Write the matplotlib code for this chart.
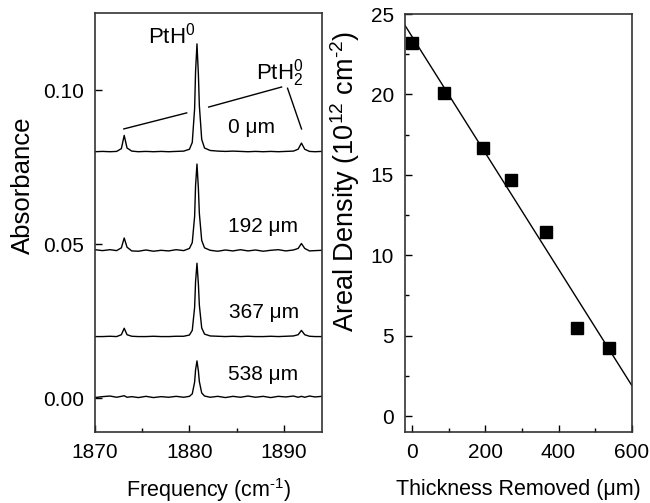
import matplotlib
matplotlib.use("Agg")
import matplotlib.pyplot as plt
from matplotlib.ticker import MultipleLocator

plt.rcParams['font.family'] = ['Liberation Sans', 'DejaVu Sans']
plt.rcParams['mathtext.fontset'] = 'custom'
plt.rcParams['mathtext.rm'] = 'Liberation Sans'
plt.rcParams['mathtext.it'] = 'Liberation Sans:italic'

# ---- left panel: IR spectra ----
freq = [1870.0, 1870.8, 1871.6, 1872.3, 1872.8, 1873.1, 1873.4, 1873.9, 1874.6, 1875.4,
        1876.2, 1877.0, 1877.8, 1878.6, 1879.4, 1880.0, 1880.3, 1880.55, 1880.65, 1880.8,
        1880.95, 1881.05, 1881.3, 1881.6, 1882.2, 1883.0, 1883.8, 1884.6, 1885.4, 1886.2,
        1887.0, 1887.8, 1888.6, 1889.4, 1890.2, 1891.0, 1891.5, 1891.85, 1892.2, 1892.7,
        1893.3, 1894.0]

abs_0um = [0.0000, 0.0001, 0.0000, 0.0001, 0.0010, 0.0053, 0.0012, 0.0002, 0.0000, 0.0001,
           0.0000, 0.0001, 0.0000, 0.0001, 0.0002, 0.0008, 0.0030, 0.0140, 0.0260, 0.0350,
           0.0250, 0.0150, 0.0040, 0.0012, 0.0004, 0.0002, 0.0001, 0.0002, 0.0001, 0.0000,
           0.0001, 0.0000, 0.0001, 0.0000, 0.0001, 0.0002, 0.0008, 0.0028, 0.0008, 0.0001,
           0.0000, 0.0001]
abs_192um = [0.0002, -0.0001, 0.0002, -0.0001, 0.0008, 0.0040, 0.0010, -0.0002, -0.0003, 0.0001,
             -0.0003, 0.0000, -0.0002, 0.0002, -0.0001, 0.0006, 0.0025, 0.0110, 0.0210, 0.0280,
             0.0200, 0.0120, 0.0032, 0.0008, 0.0000, -0.0003, 0.0001, -0.0002, 0.0002, -0.0002,
             0.0001, -0.0003, 0.0000, 0.0002, -0.0002, 0.0001, 0.0006, 0.0022, 0.0006, -0.0002,
             -0.0001, 0.0000]
abs_367um = [0.0000, 0.0000, 0.0001, 0.0000, 0.0006, 0.0027, 0.0006, 0.0001, 0.0000, 0.0000,
             0.0001, 0.0000, 0.0000, 0.0001, 0.0001, 0.0005, 0.0020, 0.0095, 0.0178, 0.0238,
             0.0170, 0.0102, 0.0028, 0.0008, 0.0002, 0.0001, 0.0000, 0.0001, 0.0000, 0.0001,
             0.0000, 0.0000, 0.0001, 0.0000, 0.0001, 0.0002, 0.0006, 0.0020, 0.0006, 0.0001,
             0.0000, 0.0000]
abs_538um = [-0.0002, 0.0001, 0.0003, -0.0001, 0.0002, 0.0004, -0.0001, 0.0001, -0.0002, 0.0002,
             -0.0002, 0.0001, -0.0001, 0.0002, -0.0001, 0.0002, 0.0010, 0.0048, 0.0088, 0.0117,
             0.0084, 0.0050, 0.0013, 0.0003, -0.0001, 0.0002, -0.0002, 0.0002, -0.0001, 0.0003,
             -0.0001, 0.0002, -0.0002, 0.0002, 0.0000, 0.0003, -0.0001, 0.0002, -0.0001, 0.0003,
             0.0000, 0.0002]

spectra = [abs_0um, abs_192um, abs_367um, abs_538um]
offsets = [0.080, 0.048, 0.020, 0.0004]
depth_labels = ['0 \u03bcm', '192 \u03bcm', '367 \u03bcm', '538 \u03bcm']
label_pos = [(1886.6, 0.088), (1887.8, 0.0558), (1887.9, 0.0277), (1887.8, 0.0077)]

# ---- right panel: areal density vs thickness removed ----
thickness = [0, 87, 194, 270, 366, 450, 537]
density = [23.2, 20.1, 16.7, 14.7, 11.45, 5.5, 4.2]
fit_x = [-19, 600]
fit_y = [24.3, 1.9]

fig = plt.figure(figsize=(6.5, 5.03), dpi=100)
ax1 = fig.add_axes([0.146, 0.141, 0.349, 0.833])
ax2 = fig.add_axes([0.623, 0.141, 0.349, 0.831])

for y, off in zip(spectra, offsets):
    ax1.plot(freq, [v + off for v in y], color='black', lw=1.0)
for txt, (tx, ty) in zip(depth_labels, label_pos):
    ax1.text(tx, ty, txt, fontsize=15, ha='center', va='center')

# peak labels with pointer lines
ax1.text(1878.1, 0.1177, 'PtH$^0$', fontsize=16, ha='center', va='center')
ax1.text(1889.5, 0.1055, 'PtH$_2^0$', fontsize=16, ha='center', va='center')
ax1.plot([1873.06, 1879.71], [0.0874, 0.0926], color='black', lw=1.0)
ax1.plot([1882.04, 1889.75], [0.0945, 0.1010], color='black', lw=1.0)
ax1.plot([1890.38, 1891.86], [0.1006, 0.0874], color='black', lw=1.0)

ax1.set_xlim(1870, 1894)
ax1.set_ylim(-0.011, 0.125)
ax1.set_xticks([1870, 1880, 1890])
ax1.xaxis.set_minor_locator(MultipleLocator(5))
ax1.set_yticks([0.00, 0.05, 0.10])
ax1.set_yticklabels(['0.00', '0.05', '0.10'])
ax1.set_xlabel(r'Frequency (cm$^{\text{-1}}$)', fontsize=15.5, labelpad=10)
ax1.set_ylabel('Absorbance', fontsize=18.5)
ax1.yaxis.set_label_coords(-0.265, 0.59)

ax2.plot(fit_x, fit_y, color='black', lw=1.0)
ax2.plot(thickness, density, 's', color='black', ms=8.5)
ax2.set_xlim(-19, 600)
ax2.set_ylim(-1, 25)
ax2.xaxis.set_major_locator(MultipleLocator(200))
ax2.xaxis.set_minor_locator(MultipleLocator(100))
ax2.yaxis.set_major_locator(MultipleLocator(5))
ax2.yaxis.set_minor_locator(MultipleLocator(2.5))
ax2.set_xlabel('Thickness Removed (\u03bcm)', fontsize=15.5, labelpad=12)
ax2.set_ylabel(r'Areal Density (10$^{12}$ cm$^{\text{-2}}$)', fontsize=19.5)
ax2.yaxis.set_label_coords(-0.19, 0.60)

for ax in (ax1, ax2):
    ax.tick_params(which='both', direction='in', top=False, right=False,
                   labelsize=15, pad=8, width=1.0)
    ax.tick_params(which='major', length=5)
    ax.tick_params(which='minor', length=3)
    for s in ax.spines.values():
        s.set_linewidth(1.2)
        s.set_color('#333333')

fig.savefig('out.png', dpi=100)
